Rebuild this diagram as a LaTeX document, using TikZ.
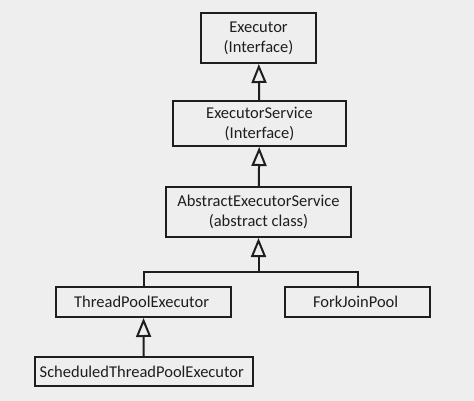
\documentclass[tikz,border=0pt]{standalone}
\usepackage{fontspec}
\setmainfont{Carlito}
\definecolor{bgcol}{HTML}{EEEEEE}
\definecolor{inkc}{HTML}{1E1E1E}
\usetikzlibrary{positioning, arrows.meta}

\begin{document}
\begin{tikzpicture}[x=1pt, y=-1pt,
  cls/.style={draw=inkc, line width=2pt, fill=bgcol, align=center,
              font=\fontsize{16.5}{20}\selectfont, text=inkc, inner sep=0pt},
  inherit/.style={draw=inkc, line width=2pt,
                  -{Triangle[open, width=15pt, length=19pt]}},
  bus/.style={draw=inkc, line width=2pt},
]
\fill[bgcol] (0,0) rectangle (474,401);
\useasboundingbox (0,0) rectangle (474,401);

\node[cls, minimum width=115pt, minimum height=50pt] (ex) at (258.5,38) {
  Executor\\(Interface)
};
\node[cls, minimum width=173pt, minimum height=45pt] (es) at (259.5,123.5) {
  ExecutorService\\(Interface)
};
\node[cls, minimum width=185pt, minimum height=50pt] (aes) at (258.5,212) {
  AbstractExecutorService\\(abstract class)
};
\node[cls, minimum width=175pt, minimum height=30pt] (tpe) at (143.5,302) {
  ThreadPoolExecutor
};
\node[cls, minimum width=145pt, minimum height=30pt] (fjp) at (357.5,302) {
  ForkJoinPool
};
\node[cls, minimum width=218pt, minimum height=29pt] (stpe) at (143.7,371.5) {
  ScheduledThreadPoolExecutor
};

\coordinate (join) at (258.5,272);

\draw[inherit] (es) -- (ex);
\draw[inherit] (aes) -- (es);
\draw[bus] (tpe.north) |- (join) -| (fjp.north);
\draw[inherit] (join) -- (aes.south);
\draw[inherit] (stpe) -- (tpe);
\end{tikzpicture}
\end{document}
